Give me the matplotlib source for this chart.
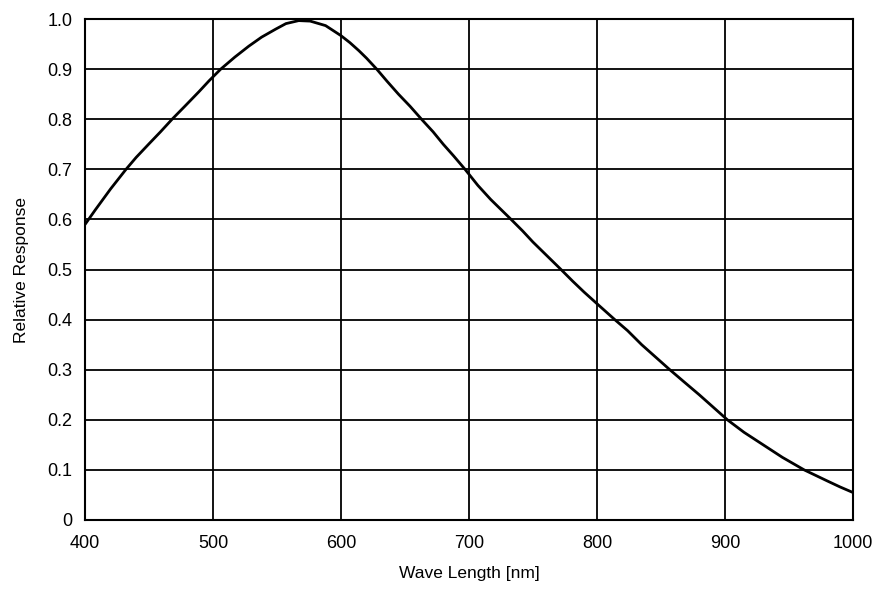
import matplotlib
matplotlib.use("Agg")
import matplotlib.pyplot as plt

plt.rcParams["font.family"] = ["Liberation Sans", "DejaVu Sans"]

# Spectral response
wavelength_nm = [400, 408, 420, 432, 440, 450, 459, 468, 478, 489, 497, 506, 517,
                 528, 538, 549, 557, 567, 576, 588, 600, 607, 614, 620, 628, 636,
                 645, 654, 663, 672, 680, 688, 697, 707, 717, 725, 733, 742, 750,
                 760, 772, 781, 790, 800, 807, 814, 824, 835, 846, 857, 868, 880,
                 891, 902, 915, 930, 945, 962, 980, 990, 1000]
response = [0.59, 0.619, 0.661, 0.70, 0.724, 0.751, 0.775, 0.80, 0.826, 0.855, 0.877, 0.90, 0.924,
            0.946, 0.964, 0.98, 0.991, 0.997, 0.996, 0.987, 0.967, 0.953, 0.937, 0.922, 0.90, 0.876,
            0.85, 0.826, 0.80, 0.775, 0.75, 0.727, 0.70, 0.668, 0.64, 0.62, 0.60, 0.577, 0.555,
            0.53, 0.50, 0.477, 0.455, 0.432, 0.416, 0.40, 0.378, 0.35, 0.325, 0.30, 0.276, 0.25,
            0.225, 0.20, 0.175, 0.15, 0.125, 0.10, 0.078, 0.066, 0.055]

x_ticks = [400, 500, 600, 700, 800, 900, 1000]
y_ticks = [0, 0.1, 0.2, 0.3, 0.4, 0.5, 0.6, 0.7, 0.8, 0.9, 1.0]
y_tick_labels = ["0", "0.1", "0.2", "0.3", "0.4", "0.5", "0.6", "0.7", "0.8", "0.9", "1.0"]

fig = plt.figure(figsize=(8.81, 5.97), dpi=100)
ax = fig.add_axes([0.0965, 0.129, 0.8715, 0.839])

ax.plot(wavelength_nm, response, color="black", lw=2.0,
        solid_joinstyle="round", solid_capstyle="butt")

ax.set_xlim(400, 1000)
ax.set_ylim(0, 1.0)
ax.set_xticks(x_ticks)
ax.set_yticks(y_ticks)
ax.set_yticklabels(y_tick_labels)
ax.tick_params(axis="both", length=0, labelsize=13)
ax.tick_params(axis="x", pad=11)
ax.tick_params(axis="y", pad=9)
ax.grid(True, color="black", lw=1.3)
for s in ax.spines.values():
    s.set_color("black")
    s.set_linewidth(1.5)

ax.set_xlabel("Wave Length [nm]", fontsize=12.5, labelpad=10)
ax.set_ylabel("Relative Response", fontsize=12.5, labelpad=13)

fig.savefig("out.png", dpi=100)
